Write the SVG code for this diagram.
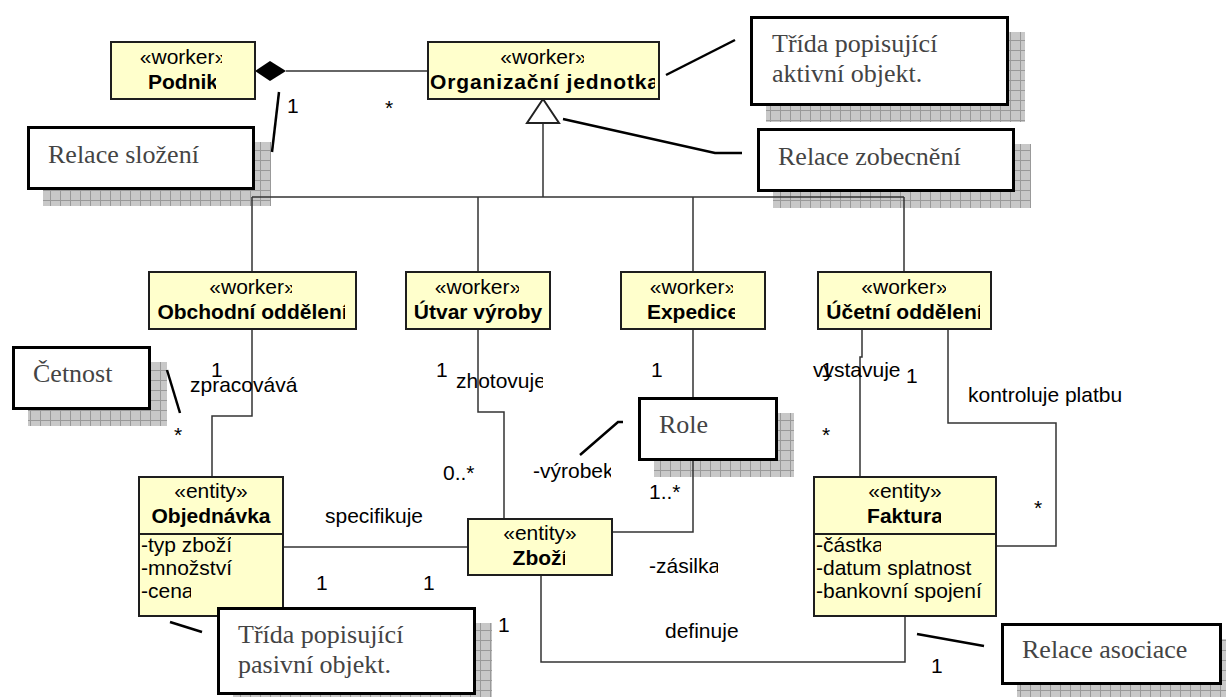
<svg xmlns="http://www.w3.org/2000/svg" width="1226" height="697" viewBox="0 0 1226 697">
  <defs>
    <style>
      .cls { fill: #ffffcc; stroke: #1e1e1e; stroke-width: 2; }
      .t { font-family: "Liberation Sans", Arial, sans-serif; font-size: 21px; fill: #000; }
      .b { font-weight: bold; }
      .m { text-anchor: middle; }
      .note { fill: #fff; stroke: #000; stroke-width: 3; }
      .nt { font-family: "Liberation Serif", "Times New Roman", serif; font-size: 26px; fill: #444; }
      .shadow { fill: url(#hatch); }
      .edge { fill: none; stroke: #333; stroke-width: 1.5; }
      .anchor { fill: none; stroke: #000; stroke-width: 2.5; }
    </style>
    <pattern id="hatch" width="10" height="10" patternUnits="userSpaceOnUse">
      <rect width="10" height="10" fill="#c8c8c8"/>
      <path d="M0 0.5H10M0.5 0V10" stroke="#999" stroke-width="1"/>
    </pattern>
    <!-- right-hand cut-offs for labels that run past their box -->
    <clipPath id="k222"><rect x="0" y="0" width="222" height="697"/></clipPath>
    <clipPath id="k216"><rect x="0" y="0" width="216" height="697"/></clipPath>
    <clipPath id="k584"><rect x="0" y="0" width="584" height="697"/></clipPath>
    <clipPath id="k655"><rect x="0" y="0" width="655" height="697"/></clipPath>
    <clipPath id="k292"><rect x="0" y="0" width="292" height="697"/></clipPath>
    <clipPath id="k345"><rect x="0" y="0" width="345" height="697"/></clipPath>
    <clipPath id="k519"><rect x="0" y="0" width="519" height="697"/></clipPath>
    <clipPath id="k733"><rect x="0" y="0" width="733" height="697"/></clipPath>
    <clipPath id="k735"><rect x="0" y="0" width="735" height="697"/></clipPath>
    <clipPath id="k946"><rect x="0" y="0" width="946" height="697"/></clipPath>
    <clipPath id="k980"><rect x="0" y="0" width="980" height="697"/></clipPath>
    <clipPath id="k231"><rect x="0" y="0" width="231" height="697"/></clipPath>
    <clipPath id="k233"><rect x="0" y="0" width="233" height="697"/></clipPath>
    <clipPath id="k191"><rect x="0" y="0" width="191" height="697"/></clipPath>
    <clipPath id="k565"><rect x="0" y="0" width="565" height="697"/></clipPath>
    <clipPath id="k941"><rect x="0" y="0" width="941" height="697"/></clipPath>
    <clipPath id="k881"><rect x="0" y="0" width="881" height="697"/></clipPath>
    <clipPath id="k543"><rect x="0" y="0" width="543" height="697"/></clipPath>
    <clipPath id="k611"><rect x="0" y="0" width="611" height="697"/></clipPath>
    <clipPath id="k718"><rect x="0" y="0" width="718" height="697"/></clipPath>
  </defs>

  <rect width="1226" height="697" fill="#fff"/>

  <!-- drop shadows of the comment boxes -->
  <g id="note-shadows">
    <rect class="shadow" x="766" y="32" width="259" height="90"/>
    <rect class="shadow" x="773" y="144" width="258" height="64"/>
    <rect class="shadow" x="43" y="142" width="228" height="64"/>
    <rect class="shadow" x="28" y="362" width="139" height="64"/>
    <rect class="shadow" x="654" y="413" width="140" height="64"/>
    <rect class="shadow" x="233" y="623" width="259" height="88"/>
    <rect class="shadow" x="1017" y="639" width="221" height="62"/>
  </g>

  <!-- relations -->
  <g id="connectors">
    <!-- composition Podnik - Organizační jednotka -->
    <path class="edge" d="M286,71 H428"/>
    <polygon points="255,71 270,61 286,71 270,81" fill="#000"/>
    <!-- generalization tree -->
    <path class="edge" d="M543,123 V197 M252,197 H904 M252,197 V272 M478,197 V272 M693,197 V272 M904,197 V272"/>
    <polygon points="543,99 527,123 559,123" fill="#fff" stroke="#222" stroke-width="2"/>
    <!-- associations -->
    <path class="edge" d="M252,329 V416 H212 V477"/>
    <path class="edge" d="M478,329 V412 H504 V519"/>
    <path class="edge" d="M693,329 V532 H612"/>
    <path class="edge" d="M283,547 H468"/>
    <path class="edge" d="M541,575 V662 H905 V616"/>
    <path class="edge" d="M862,329 V357 H860 V477"/>
    <path class="edge" d="M948,329 V423 H1056 V546 H996"/>
    <!-- comment anchors -->
    <path class="anchor" d="M279,92 L272,152"/>
    <path class="anchor" d="M666,75 L735,40"/>
    <path class="anchor" d="M563,119 L715,153 H742"/>
    <path class="anchor" d="M167,370 L180,413"/>
    <path class="anchor" d="M580,455 L618,422 H623"/>
    <path class="anchor" d="M170,622 L202,632"/>
    <path class="anchor" d="M917,634 L984,646"/>
  </g>

  <!-- association labels and multiplicities -->
  <g id="edge-labels" class="t">
    <text x="287" y="113">1</text>
    <text x="385" y="115">*</text>
    <text x="211" y="377">1</text>
    <text x="190" y="392">zpracovává</text>
    <text x="174" y="442">*</text>
    <text x="436" y="377">1</text>
    <text x="456" y="388" clip-path="url(#k543)">zhotovuje</text>
    <text x="443" y="480">0..*</text>
    <text x="533" y="478" clip-path="url(#k611)">-výrobek</text>
    <text x="651" y="377">1</text>
    <text x="649" y="499">1..*</text>
    <text x="649" y="573" clip-path="url(#k718)">-zásilka</text>
    <text x="325" y="523">specifikuje</text>
    <text x="316" y="590">1</text>
    <text x="423" y="590">1</text>
    <text x="665" y="638">definuje</text>
    <text x="498" y="632">1</text>
    <text x="931" y="673">1</text>
    <text x="813" y="377">vystavuje</text>
    <text x="821" y="377">1</text>
    <text x="906" y="383">1</text>
    <text x="822" y="442">*</text>
    <text x="968" y="402">kontroluje platbu</text>
    <text x="1034" y="515">*</text>
  </g>

  <!-- classes -->
  <g id="podnik">
    <rect class="cls" x="111" y="42" width="144" height="57"/>
    <text class="t m" x="183" y="64" clip-path="url(#k222)">«worker»</text>
    <text class="t b m" x="183" y="89" clip-path="url(#k216)">Podnik</text>
  </g>
  <g id="organizacni-jednotka">
    <rect class="cls" x="428" y="42" width="231" height="57"/>
    <text class="t m" x="543.5" y="64" clip-path="url(#k584)">«worker»</text>
    <text class="t b" x="430" y="89" textLength="229" lengthAdjust="spacing" clip-path="url(#k655)">Organizační jednotka</text>
  </g>
  <g id="obchodni-oddeleni">
    <rect class="cls" x="149" y="272" width="207" height="57"/>
    <text class="t m" x="252.5" y="294" clip-path="url(#k292)">«worker»</text>
    <text class="t b m" x="252.5" y="319" clip-path="url(#k345)">Obchodní oddělení</text>
  </g>
  <g id="utvar-vyroby">
    <rect class="cls" x="406" y="272" width="144" height="57"/>
    <text class="t m" x="478" y="294" clip-path="url(#k519)">«worker»</text>
    <text class="t b m" x="478" y="319">Útvar výroby</text>
  </g>
  <g id="expedice">
    <rect class="cls" x="621" y="272" width="144" height="57"/>
    <text class="t m" x="693" y="294" clip-path="url(#k733)">«worker»</text>
    <text class="t b m" x="693" y="319" clip-path="url(#k735)">Expedice</text>
  </g>
  <g id="ucetni-oddeleni">
    <rect class="cls" x="818" y="272" width="173" height="57"/>
    <text class="t m" x="904.5" y="294" clip-path="url(#k946)">«worker»</text>
    <text class="t b m" x="904.5" y="319" clip-path="url(#k980)">Účetní oddělení</text>
  </g>
  <g id="objednavka">
    <rect class="cls" x="139" y="477" width="144" height="139"/>
    <path d="M139,534 H283" stroke="#1e1e1e" stroke-width="2"/>
    <text class="t m" x="211" y="498">«entity»</text>
    <text class="t b m" x="211" y="523">Objednávka</text>
    <text class="t" x="141" y="552" clip-path="url(#k231)">-typ zboží</text>
    <text class="t" x="141" y="575" clip-path="url(#k233)">-množství</text>
    <text class="t" x="141" y="598" clip-path="url(#k191)">-cena</text>
  </g>
  <g id="zbozi">
    <rect class="cls" x="468" y="519" width="144" height="56"/>
    <text class="t m" x="540" y="540">«entity»</text>
    <text class="t b m" x="540" y="565" clip-path="url(#k565)">Zboží</text>
  </g>
  <g id="faktura">
    <rect class="cls" x="814" y="477" width="182" height="139"/>
    <path d="M814,534 H996" stroke="#1e1e1e" stroke-width="2"/>
    <text class="t m" x="905" y="498">«entity»</text>
    <text class="t b m" x="905" y="523" clip-path="url(#k941)">Faktura</text>
    <text class="t" x="816" y="552" clip-path="url(#k881)">-částka</text>
    <text class="t" x="816" y="575">-datum splatnost</text>
    <text class="t" x="816" y="598">-bankovní spojení</text>
  </g>

  <!-- comments -->
  <g id="note-aktivni">
    <rect class="note" x="751.5" y="17.5" width="256" height="87"/>
    <text class="nt" x="772" y="52">Třída popisující</text>
    <text class="nt" x="772" y="82">aktivní objekt.</text>
  </g>
  <g id="note-zobecneni">
    <rect class="note" x="758.5" y="129.5" width="255" height="61"/>
    <text class="nt" x="778" y="165">Relace zobecnění</text>
  </g>
  <g id="note-slozeni">
    <rect class="note" x="28.5" y="127.5" width="225" height="61"/>
    <text class="nt" x="48" y="163">Relace složení</text>
  </g>
  <g id="note-cetnost">
    <rect class="note" x="13.5" y="347.5" width="136" height="61"/>
    <text class="nt" x="33" y="382">Četnost</text>
  </g>
  <g id="note-role">
    <rect class="note" x="639.5" y="398.5" width="137" height="61"/>
    <text class="nt" x="659" y="433">Role</text>
  </g>
  <g id="note-pasivni">
    <rect class="note" x="218.5" y="608.5" width="256" height="85"/>
    <text class="nt" x="238" y="643">Třída popisující</text>
    <text class="nt" x="238" y="673">pasivní objekt.</text>
  </g>
  <g id="note-asociace">
    <rect class="note" x="1002.5" y="624.5" width="218" height="59"/>
    <text class="nt" x="1022" y="658">Relace asociace</text>
  </g>
</svg>
